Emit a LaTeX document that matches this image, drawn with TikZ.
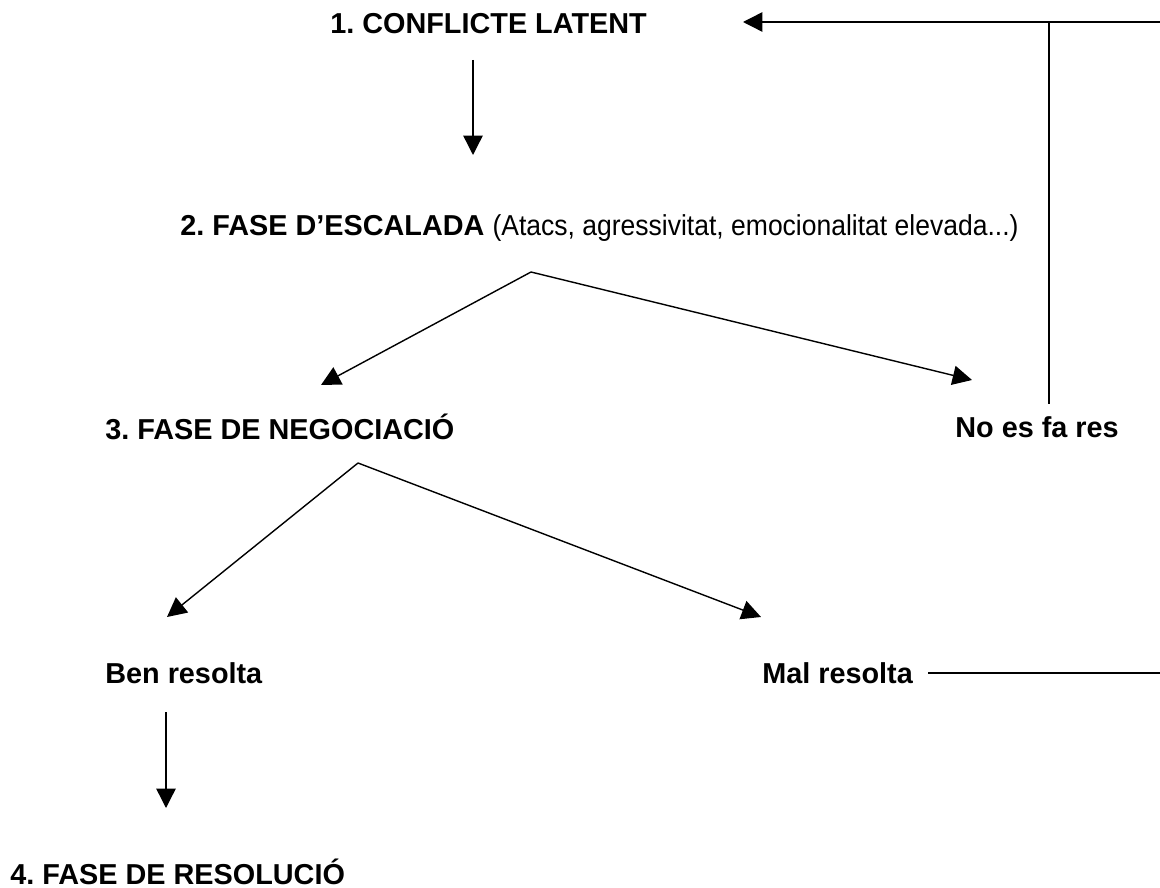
\documentclass[tikz,border=0pt]{standalone}
\usepackage{graphicx}
\usepackage{fontspec}
\setmainfont{Liberation Sans}
\usetikzlibrary{arrows.meta}
\frenchspacing
\tikzset{
  fase/.style={anchor=base west,inner sep=0pt,font=\fontsize{16.4}{19}\selectfont\bfseries},
  linia/.style={line width=0.8pt},
  fletxa/.style={linia,-{Triangle[length=11pt,width=11pt]}}
}
\begin{document}
\begin{tikzpicture}[x=0.02cm,y=-0.02cm]
\useasboundingbox (0,0) rectangle (1160,888);
\node[fase] (latent) at (330,34) {1. CONFLICTE LATENT};
\node[fase] (escalada) at (180,236) {2. FASE D’ESCALADA \scalebox{0.92}[1]{\mdseries(Atacs, agressivitat, emocionalitat elevada...)}};
\node[fase] (negociacio) at (105,439) {3. FASE DE NEGOCIACIÓ};
\node[fase] (resnofa) at (955,438) {No es fa res};
\node[fase] (ben) at (105,683) {Ben resolta};
\node[fase] (mal) at (762,683) {Mal resolta};
\node[fase] (resolucio) at (10,884) {4. FASE DE RESOLUCIÓ};
% punts de les fletxes
\coordinate (l1) at (473,60);  \coordinate (l2) at (473,155);
\coordinate (e0) at (531,272);
\coordinate (e1) at (321,385); \coordinate (e2) at (972,380);
\coordinate (n0) at (358,463);
\coordinate (n1) at (167,617); \coordinate (n2) at (761,617);
\coordinate (b1) at (166,712); \coordinate (b2) at (166,808);
\coordinate (torna) at (743,22); \coordinate (dalt) at (1160,22);
\coordinate (v1) at (1049,22); \coordinate (v2) at (1049,404);
\coordinate (m1) at (928,673); \coordinate (m2) at (1160,673);
\draw[fletxa] (l1) -- (l2);
\draw[fletxa] (e0) -- (e1);
\draw[fletxa] (e0) -- (e2);
\draw[fletxa] (n0) -- (n1);
\draw[fletxa] (n0) -- (n2);
\draw[fletxa] (b1) -- (b2);
\draw[fletxa] (dalt) -- (torna);
\draw[linia] (v1) -- (v2);
\draw[linia] (m1) -- (m2);
\end{tikzpicture}
\end{document}
